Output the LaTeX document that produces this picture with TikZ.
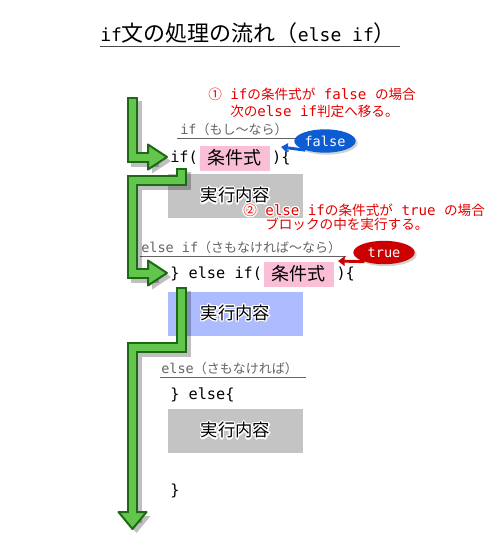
\documentclass[tikz,border=0pt]{standalone}
\usepackage{fontspec}
\setmainfont{Noto Sans CJK JP}
\newfontfamily\mono{DejaVu Sans Mono}[Scale=1.04]
\usepackage{contour}
\contourlength{0.9pt}
\usetikzlibrary{positioning,shapes.geometric,shadows,arrows.meta}

\definecolor{flowfill}{RGB}{98,198,76}
\definecolor{flowline}{RGB}{30,105,22}
\definecolor{condpink}{RGB}{250,190,215}
\definecolor{boxgray}{RGB}{196,196,196}
\definecolor{boxblue}{RGB}{172,188,255}
\definecolor{notered}{RGB}{228,0,0}
\definecolor{labelgray}{RGB}{100,100,100}
\definecolor{bubbleblue}{RGB}{12,92,212}
\definecolor{bubblered}{RGB}{204,0,0}

\newcommand{\titlelatin}[1]{{\mono\fontsize{13pt}{14pt}\selectfont #1}}
% green flow arrow: #1 shaft path, #2 head outline
\newcommand{\flowarrow}[2]{%
  \begin{scope}[shift={(4,4)}]
    \draw[flowshadow, line width=8.25pt, line cap=rect, line join=miter] #1;
    \fill[flowshadow] #2;
  \end{scope}
  \draw[flowdark] #1;
  \path[flowhead] #2;
  \draw[flowlight] #1;
}

\tikzset{
  codetxt/.style={inner sep=0pt, anchor=west, font=\mono\fontsize{11pt}{13pt}\selectfont},
  condbox/.style={fill=condpink, minimum width=52.5pt, minimum height=18.75pt, inner sep=0pt,
    font=\fontsize{13.5pt}{15pt}\selectfont},
  runbox/.style={minimum width=101.25pt, minimum height=33pt, inner sep=0pt,
    font=\fontsize{13pt}{15pt}\selectfont},
  note/.style={text=notered, inner sep=0pt, anchor=west, font=\fontsize{10.2pt}{12pt}\selectfont},
  kwlabel/.style={text=labelgray, inner sep=0pt, anchor=west, font=\fontsize{9.75pt}{11pt}\selectfont},
  uline/.style={draw=labelgray, line width=1pt},
  bubble/.style={ellipse, inner sep=0pt, minimum width=46pt, minimum height=17.5pt, text=white,
    font=\mono\fontsize{9.8pt}{11pt}\selectfont,
    drop shadow={opacity=0.35, shadow xshift=1.5pt, shadow yshift=-1.5pt}},
  tail/.style={line width=2.2pt, -{Triangle[length=5pt,width=7pt]}},
  flowdark/.style={draw=flowline, line width=8.25pt, line cap=rect, line join=miter},
  flowlight/.style={draw=flowfill, line width=5.25pt, line cap=rect, line join=miter},
  flowhead/.style={fill=flowfill, draw=flowline, line width=1.5pt, line join=round},
  flowshadow/.style={black, opacity=0.25},
}

\begin{document}
\begin{tikzpicture}[x=0.75pt,y=-0.75pt]
    \fill[white] (0,0) rectangle (500,554);
    \useasboundingbox (0,0) rectangle (500,554);

    % title
    \node[anchor=west, inner sep=0pt, font=\fontsize{16.5pt}{18pt}\selectfont] (title) at (100,33)
        {\titlelatin{if}文の処理の流れ（\titlelatin{else if}）};
    \draw[draw=black!70, line width=1.1pt] ([yshift=-2pt]title.south west) -- ([xshift=3pt,yshift=-2pt]title.south east);

    % notes
    \node[note] (n1a) at (208,95) {\contour{white}{①{\mono\ if}の条件式が{\mono\ false\ }の場合}};
    \node[note] (n1b) at (230,112) {\contour{white}{次の{\mono else if}判定へ移る。}};

    % keyword labels
    \node[kwlabel] (lblif) at (180,130) {{\mono if}（もし～なら）};
    \draw[uline] ([xshift=-2pt,yshift=-1.5pt]lblif.south west) -- ([xshift=6pt,yshift=-1.5pt]lblif.south east);
    \node[kwlabel] (lblelif) at (141,248) {{\mono else if}（さもなければ～なら）};
    \draw[uline] ([xshift=-1pt,yshift=-1.5pt]lblelif.south west) -- ([xshift=3pt,yshift=-1.5pt]lblelif.south east);
    \node[kwlabel] (lblelse) at (161,369) {{\mono else}（さもなければ）};
    \draw[uline] ([xshift=-1pt,yshift=-1.5pt]lblelse.south west) -- ([xshift=6pt,yshift=-1.5pt]lblelse.south east);

    % code
    \node[codetxt] (if1) at (170,158) {if(};
    \node[condbox, right=1pt of if1] (cond1) {条件式};
    \node[codetxt, right=1.5pt of cond1] (close1) {)\{};
    \node[runbox, fill=boxgray] (run1) at (235.5,196) {\contour{white}{実行内容}};

    \node[codetxt] (elif) at (170,274) {\} else if(};
    \node[condbox, right=1pt of elif] (cond2) {条件式};
    \node[codetxt, right=1.5pt of cond2] (close2) {)\{};
    \node[runbox, fill=boxblue] (run2) at (235.5,313.5) {\contour{white}{実行内容}};

    \node[codetxt] (else) at (170,395) {\} else\{};
    \node[runbox, fill=boxgray] (run3) at (235.5,431) {\contour{white}{実行内容}};
    \node[codetxt] (end) at (170,491) {\}};

    \node[note] (n2a) at (243,211) {\contour{white}{②{\mono\ else if}の条件式が{\mono\ true\ }の場合}};
    \node[note] (n2b) at (265,225) {\contour{white}{ブロックの中を実行する。}};

    % bubbles
    \node[bubble, fill=bubbleblue] (fbub) at (325,141) {false};
    \coordinate (ftip) at (281,147);
    \draw[tail, bubbleblue] (fbub.205) -- (ftip);
    \node[bubble, fill=bubblered] (tbub) at (384,252.5) {true};
    \coordinate (ttip) at (338,261);
    \draw[tail, bubblered] (tbub.205) -- (ttip);

    % flow arrows
    \flowarrow{(132.5,102.5) -- (132.5,157) -- (149,157)}
              {(148,144.5) -- (167,157) -- (148,169.5) -- cycle}
    \flowarrow{(181,173.5) -- (181,180) -- (132.5,180) -- (132.5,273) -- (149,273)}
              {(148,260.5) -- (167,273) -- (148,285.5) -- cycle}
    \flowarrow{(181,292.5) -- (181,347) -- (132.5,347) -- (132.5,513)}
              {(118.5,512) -- (132.5,529) -- (146.5,512) -- cycle}
\end{tikzpicture}
\end{document}
